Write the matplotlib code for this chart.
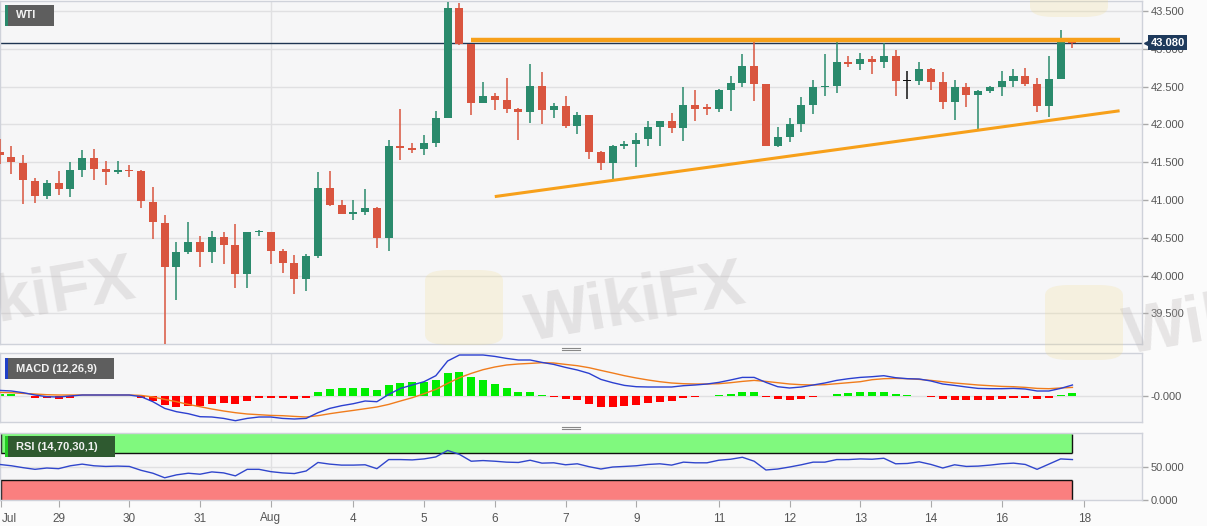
import numpy as np
import matplotlib
matplotlib.use("Agg")
import matplotlib.pyplot as plt
from matplotlib.patches import Rectangle, FancyBboxPatch
from matplotlib.lines import Line2D
import matplotlib.transforms as mtransforms

plt.rcParams['font.family'] = ['Liberation Sans', 'DejaVu Sans']

# 4h WTI candles
opens = [41.63, 41.57, 41.49, 41.25, 41.05, 41.23, 41.15, 41.40, 41.56, 41.41,
         41.37, 41.39, 41.38, 40.97, 40.70, 40.11, 40.31, 40.45, 40.31, 40.51,
         40.41, 40.02, 40.57, 40.58, 40.33, 40.17, 39.95, 40.26, 41.16, 40.94,
         40.82, 40.84, 40.90, 40.50, 41.72, 41.69, 41.67, 41.76, 42.09, 43.54,
         43.06, 42.28, 42.37, 42.32, 42.20, 42.16, 42.51, 42.19, 42.24, 41.98,
         42.13, 41.63, 41.49, 41.72, 41.74, 41.81, 41.97, 42.05, 41.95, 42.25,
         42.22, 42.21, 42.46, 42.55, 42.77, 42.53, 41.72, 41.83, 42.01, 42.25,
         42.50, 42.51, 42.82, 42.80, 42.87, 42.82, 42.91, 42.57, 42.58, 42.73,
         42.56, 42.29, 42.49, 42.39, 42.44, 42.49, 42.57, 42.64, 42.54, 42.24,
         42.60, 43.11]
highs = [41.81, 41.71, 41.59, 41.29, 41.26, 41.38, 41.50, 41.66, 41.68, 41.51,
         41.51, 41.46, 41.39, 41.17, 40.80, 40.45, 40.71, 40.53, 40.59, 40.57,
         40.68, 40.57, 40.60, 40.58, 40.35, 40.27, 40.29, 41.37, 41.38, 41.00,
         41.00, 41.15, 40.91, 41.79, 42.20, 41.75, 41.86, 42.18, 43.62, 43.60,
         43.06, 42.56, 42.42, 42.62, 42.22, 42.80, 42.69, 42.28, 42.38, 42.16,
         42.13, 41.65, 41.73, 41.78, 41.88, 42.05, 42.05, 42.15, 42.49, 42.46,
         42.27, 42.47, 42.64, 42.93, 43.09, 42.54, 41.96, 42.08, 42.36, 42.59,
         42.93, 43.09, 42.90, 42.94, 42.91, 43.08, 42.99, 42.70, 42.83, 42.75,
         42.69, 42.59, 42.55, 42.45, 42.51, 42.70, 42.73, 42.75, 42.61, 42.90,
         43.25, 43.14]
lows = [41.48, 41.34, 40.95, 40.96, 41.01, 41.06, 41.04, 41.30, 41.26, 41.20,
        41.34, 41.30, 40.89, 40.48, 39.10, 39.68, 40.29, 40.12, 40.16, 40.15,
        39.83, 39.83, 40.53, 40.15, 40.04, 39.75, 39.80, 40.23, 40.92, 40.81,
        40.74, 40.80, 40.36, 40.33, 41.53, 41.62, 41.60, 41.70, 42.08, 43.05,
        42.13, 42.28, 42.19, 42.15, 41.80, 42.02, 42.01, 42.09, 41.95, 41.87,
        41.54, 41.40, 41.26, 41.67, 41.44, 41.72, 41.72, 41.89, 41.78, 42.04,
        42.13, 42.17, 42.18, 42.49, 42.31, 41.71, 41.70, 41.77, 41.90, 42.14,
        42.38, 42.42, 42.76, 42.72, 42.67, 42.74, 42.38, 42.34, 42.52, 42.46,
        42.20, 42.06, 42.23, 41.93, 42.41, 42.38, 42.49, 42.51, 42.16, 42.10,
        42.60, 43.01]
closes = [41.59, 41.50, 41.26, 41.05, 41.23, 41.15, 41.40, 41.56, 41.41, 41.37,
          41.39, 41.38, 40.98, 40.71, 40.11, 40.31, 40.45, 40.31, 40.51, 40.41,
          40.02, 40.57, 40.58, 40.33, 40.16, 39.95, 40.26, 41.16, 40.94, 40.82,
          40.84, 40.89, 40.50, 41.71, 41.69, 41.66, 41.76, 42.09, 43.54, 43.06,
          42.28, 42.38, 42.32, 42.20, 42.16, 42.51, 42.19, 42.24, 41.98, 42.13,
          41.63, 41.49, 41.72, 41.74, 41.80, 41.97, 42.05, 41.95, 42.25, 42.21,
          42.21, 42.46, 42.55, 42.77, 42.53, 41.72, 41.83, 42.01, 42.25, 42.50,
          42.51, 42.82, 42.80, 42.87, 42.82, 42.91, 42.57, 42.57, 42.73, 42.56,
          42.29, 42.49, 42.39, 42.44, 42.49, 42.57, 42.64, 42.54, 42.24, 42.60,
          43.11, 43.08]

macd_line = [0.053, 0.047, 0.030, 0.007, -0.010, -0.013, -0.003, 0.007, 0.007, 0.007,
             0.007, 0.007, -0.010, -0.060, -0.127, -0.160, -0.180, -0.210, -0.213, -0.227,
             -0.250, -0.227, -0.213, -0.213, -0.227, -0.233, -0.227, -0.170, -0.127, -0.100,
             -0.080, -0.053, -0.060, 0.013, 0.073, 0.107, 0.140, 0.200, 0.347, 0.407,
             0.407, 0.407, 0.393, 0.373, 0.357, 0.357, 0.333, 0.313, 0.283, 0.257,
             0.223, 0.163, 0.130, 0.103, 0.090, 0.087, 0.087, 0.087, 0.100, 0.107,
             0.117, 0.133, 0.157, 0.183, 0.183, 0.133, 0.090, 0.077, 0.087, 0.107,
             0.127, 0.153, 0.170, 0.183, 0.190, 0.200, 0.180, 0.170, 0.167, 0.147,
             0.117, 0.103, 0.087, 0.073, 0.070, 0.070, 0.073, 0.067, 0.047, 0.047,
             0.073, 0.107]
signal_line = [0.033, 0.030, 0.023, 0.017, 0.010, 0.007, 0.007, 0.007, 0.007, 0.007,
               0.007, 0.007, 0.003, -0.013, -0.037, -0.060, -0.087, -0.110, -0.133, -0.153,
               -0.170, -0.183, -0.190, -0.197, -0.200, -0.207, -0.213, -0.200, -0.180, -0.163,
               -0.147, -0.130, -0.113, -0.087, -0.053, -0.020, 0.020, 0.063, 0.123, 0.180,
               0.223, 0.260, 0.287, 0.307, 0.317, 0.323, 0.330, 0.327, 0.313, 0.300,
               0.280, 0.253, 0.227, 0.200, 0.177, 0.157, 0.140, 0.127, 0.120, 0.117,
               0.117, 0.120, 0.130, 0.143, 0.153, 0.143, 0.130, 0.117, 0.110, 0.107,
               0.110, 0.120, 0.130, 0.140, 0.160, 0.170, 0.173, 0.170, 0.163, 0.153,
               0.140, 0.127, 0.117, 0.107, 0.100, 0.093, 0.090, 0.083, 0.073, 0.070,
               0.077, 0.083]
macd_hist = [0.020, 0.020, 0.002, -0.020, -0.023, -0.030, -0.020, -0.003, -0.002, -0.002,
             -0.002, -0.002, -0.020, -0.050, -0.097, -0.113, -0.103, -0.103, -0.080, -0.073,
             -0.080, -0.050, -0.027, -0.020, -0.020, -0.033, -0.020, 0.037, 0.067, 0.073,
             0.077, 0.077, 0.057, 0.103, 0.127, 0.140, 0.140, 0.153, 0.230, 0.240,
             0.190, 0.153, 0.113, 0.073, 0.040, 0.033, 0.007, -0.010, -0.033, -0.043,
             -0.080, -0.113, -0.113, -0.103, -0.093, -0.077, -0.060, -0.050, -0.027, -0.013,
             -0.005, 0.003, 0.013, 0.040, 0.040, -0.013, -0.037, -0.047, -0.033, -0.013,
             0.001, 0.017, 0.030, 0.040, 0.040, 0.040, 0.017, 0.003, 0.002, -0.010,
             -0.037, -0.040, -0.047, -0.047, -0.040, -0.033, -0.027, -0.027, -0.037, -0.023,
             0.007, 0.023]

rsi = [53.2, 51.2, 48.3, 45.8, 47.8, 46.8, 51.2, 53.7, 51.2, 50.2,
       50.7, 50.2, 44.3, 39.9, 33.0, 37.4, 39.9, 38.4, 41.9, 40.4,
       35.9, 45.8, 45.8, 42.3, 40.4, 39.4, 43.3, 56.2, 53.7, 52.2,
       52.2, 52.7, 46.8, 60.6, 60.6, 60.1, 61.6, 64.6, 74.4, 68.5,
       58.1, 59.1, 58.1, 56.7, 56.2, 59.6, 55.2, 55.7, 52.7, 54.2,
       49.8, 46.3, 49.3, 50.2, 51.2, 53.2, 54.2, 52.2, 56.7, 55.7,
       55.7, 59.6, 61.1, 64.1, 58.1, 44.8, 46.3, 49.3, 52.7, 56.7,
       56.7, 60.6, 60.6, 61.6, 61.1, 62.6, 54.2, 54.7, 57.2, 53.2,
       47.8, 52.7, 50.2, 50.7, 52.2, 54.2, 55.2, 53.2, 45.8, 53.7,
       61.6, 60.6]

date_ticks = [0.15, 5, 11, 17, 23, 30, 36, 42, 48, 54, 61, 67, 73, 79, 85, 92]
date_labels = ['Jul', '29', '30', '31', 'Aug', '4', '5', '6', '7', '9',
               '11', '12', '13', '14', '16', '18']
month_start = 23

price_ticks = [39.5, 40.0, 40.5, 41.0, 41.5, 42.0, 42.5, 43.0, 43.5]
last_price = 43.08

# trend lines drawn on the chart
resist_x = [40.0, 95.0]
resist_y = [43.115, 43.115]
support_x = [42.0, 95.0]
support_y = [41.045, 42.18]

GREEN = '#2a8a6c'
RED = '#d9553f'
BG = '#f6f6f7'
GRID = '#e0e0e2'
BORDER = '#cfd2da'
ORANGE = '#f7a01a'
W, H = 1207, 526
X0 = 0.03


def px_box(x0, y0, x1, y1):
    # pixel box (top-left origin) -> figure fraction rect
    return [x0 / W, 1 - y1 / H, (x1 - x0) / W, (y1 - y0) / H]


def style_panel(a):
    a.set_facecolor(BG)
    for s in a.spines.values():
        s.set_color(BORDER)
        s.set_linewidth(1)
    a.yaxis.tick_right()
    a.tick_params(axis='y', direction='out', length=4, width=1, color='#aaaaaa',
                  labelcolor='#555555', labelsize=8, pad=2)
    a.tick_params(axis='x', bottom=False, labelbottom=False)
    a.set_xlim(X0, 96.9)
    a.axvline(month_start, color=GRID, lw=1, zorder=0)


fig = plt.figure(figsize=(W / 100, H / 100), dpi=100, facecolor='#fbfbfb')

ax = fig.add_axes(px_box(0, 1, 1142, 344))
ax_macd = fig.add_axes(px_box(0, 353.3, 1142, 422.3))
ax_rsi = fig.add_axes(px_box(0, 432.6, 1142, 500))
for a in (ax, ax_macd, ax_rsi):
    style_panel(a)

# ---- price panel ----
x = np.arange(len(opens))
o = np.array(opens)
c = np.array(closes)
colors = np.where(c > o, GREEN, np.where(c < o, RED, '#111111'))
body_bottom = np.minimum(o, c)
body_h = np.maximum(np.abs(c - o), 0.014)

ax.set_ylim(39.095, 43.632)
ax.set_yticks(price_ticks)
ax.set_yticklabels(['%.3f' % p for p in price_ticks])
for p in price_ticks:
    ax.axhline(p, color=GRID, lw=1, zorder=0)

ax.vlines(x, lows, highs, colors=colors, lw=1.1, zorder=3)
ax.bar(x, body_h, bottom=body_bottom, width=0.68, color=colors, lw=0, zorder=4)

ax.axhline(last_price, color='#1f3552', lw=1, zorder=2)
ax.plot(resist_x, resist_y, color=ORANGE, lw=3.2, solid_capstyle='butt', zorder=5)
ax.plot(support_x, support_y, color=ORANGE, lw=2.2, solid_capstyle='butt', zorder=5)

trans = mtransforms.blended_transform_factory(ax.transAxes, ax.transData)
ax.text(1.0075, last_price, '%.3f' % last_price, transform=trans, ha='left', va='center',
        color='white', fontsize=8, fontweight='bold', zorder=10, clip_on=False,
        bbox=dict(boxstyle='square,pad=0.22', fc='#1e3a5c', ec='none'))
ax.plot([1.0045], [last_price], marker='<', ms=5, color='#1e3a5c', transform=trans,
        clip_on=False, zorder=10)

# ---- MACD panel ----
hist = np.array(macd_hist)
ax_macd.set_ylim(-0.266, 0.424)
ax_macd.set_yticks([0])
ax_macd.set_yticklabels(['-0.000'])
ax_macd.axhline(0, color=GRID, lw=1, zorder=0)
ax_macd.bar(x, hist, width=0.68, color=np.where(hist >= 0, '#00ee00', '#ff0000'), lw=0, zorder=2)
ax_macd.plot(x, signal_line, color='#f07c1c', lw=1, zorder=3)
ax_macd.plot(x, macd_line, color='#2b3fd0', lw=1, zorder=4)

# ---- RSI panel ----
last = len(rsi) - 1
ax_rsi.set_ylim(-0.7, 101.5)
ax_rsi.set_yticks([0, 50])
ax_rsi.set_yticklabels(['0.000', '50.000'])
ax_rsi.axhline(50, color=GRID, lw=1, zorder=0)
ax_rsi.add_patch(Rectangle((-1, 70), last + 1, 30, fc='#80f97e', ec='none', zorder=1))
ax_rsi.add_patch(Rectangle((-1, 0), last + 1, 30, fc='#fa7f7f', ec='none', zorder=1))
ax_rsi.hlines([70, 30], -1, last, color='#111111', lw=1, zorder=2)
ax_rsi.vlines([X0 + 0.08, last], 70, 100, color='#111111', lw=1, zorder=2)
ax_rsi.vlines([X0 + 0.08, last], 0, 30, color='#111111', lw=1, zorder=2)
ax_rsi.plot(x, rsi, color='#3046cc', lw=1, zorder=3)

ax_rsi.tick_params(axis='x', bottom=True, labelbottom=True, direction='out', length=5,
                   color='#aaaaaa', labelcolor='#555555', labelsize=8.5, pad=4)
ax_rsi.set_xticks(date_ticks)
ax_rsi.set_xticklabels(date_labels)
ax_rsi.get_xticklabels()[0].set_horizontalalignment('left')

# ---- panel labels ----
def label_box(x0, y0, x1, y1, stripe, face, text):
    fig.add_artist(Rectangle(px_box(x0, y0, x1, y1)[:2], (x1 - x0) / W, (y1 - y0) / H,
                             transform=fig.transFigure, fc=face, ec='none', zorder=20))
    fig.add_artist(Rectangle(px_box(x0, y0, x1, y1)[:2], 2.5 / W, (y1 - y0) / H,
                             transform=fig.transFigure, fc=stripe, ec='none', zorder=21))
    fig.text((x0 + 11) / W, 1 - (y0 + y1) / 2 / H, text, color='#f2f2f2', fontsize=8,
             fontweight='bold', ha='left', va='center', zorder=22)


label_box(5, 5, 54, 26, '#2a8a6c', '#5e5e5e', 'WTI')
label_box(5, 358, 114, 379, '#2040c8', '#5e5e5e', 'MACD (12,26,9)')
label_box(5, 436, 115, 457, '#22cc22', '#2f5a30', 'RSI (14,70,30,1)')

# panel resize grips
for yy in (347.5, 426.5):
    for dy in (0, 2.5):
        fig.add_artist(Line2D([562 / W, 580 / W], [1 - (yy + dy) / H] * 2,
                              transform=fig.transFigure, color='#888888', lw=0.8))

# ---- faint watermarks ----
for (wx, wy) in [(1030, -58), (425, 270), (1045, 285)]:
    fig.add_artist(FancyBboxPatch((wx / W, 1 - (wy + 75) / H), 78 / W, 75 / H,
                                  boxstyle='round,pad=0,rounding_size=0.02',
                                  transform=fig.transFigure, fc='#f2dc8a', ec='none',
                                  alpha=0.22, zorder=6))
for (tx, ty) in [(-88, 300), (522, 305), (1120, 318)]:
    fig.text(tx / W, 1 - ty / H, 'WikiFX', fontsize=48, fontweight='bold', color='#b9b4b4',
             alpha=0.3, rotation=10, ha='left', va='center', zorder=7)

fig.savefig('out.png', dpi=100, facecolor=fig.get_facecolor())
